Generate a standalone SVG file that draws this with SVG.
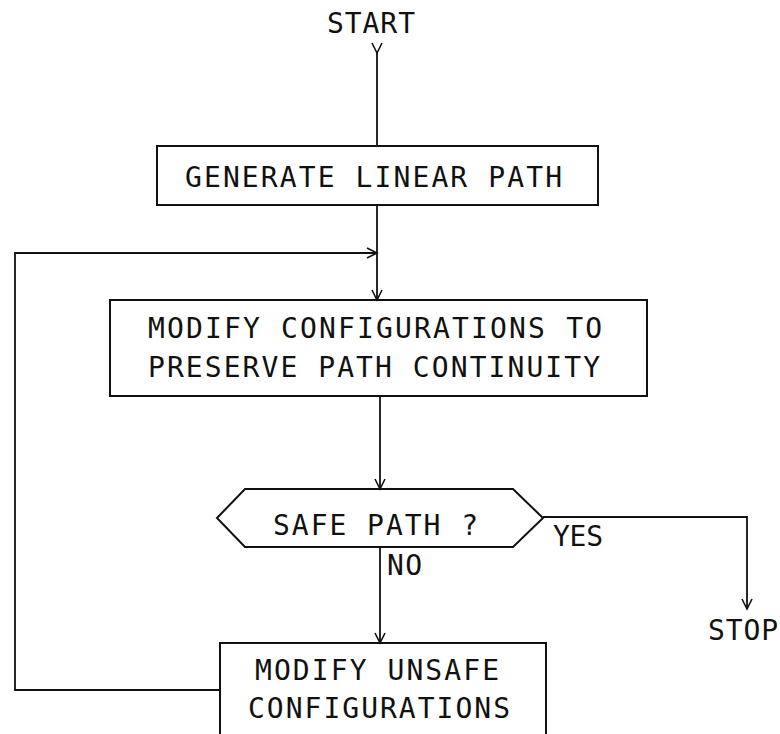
<svg xmlns="http://www.w3.org/2000/svg" width="780" height="734" viewBox="0 0 780 734">
<style>
.box{fill:none;stroke:#111;stroke-width:2}
.ln{fill:none;stroke:#111;stroke-width:1.8}
.t{font-family:"DejaVu Sans Mono","Liberation Mono",monospace;font-size:28px;fill:#111}
</style>
<defs>
<marker id="arr" viewBox="-12 -7 14 14" markerWidth="14" markerHeight="14" refX="0" refY="0" orient="auto" markerUnits="userSpaceOnUse">
<path d="M-10,-5 L0,0 L-10,5" fill="none" stroke="#111" stroke-width="1.6"/>
</marker>
</defs>
<rect width="780" height="734" fill="#fff"/>
<g id="connectors">
<path class="ln" d="M377,53 V146" marker-start="url(#arr)"/>
<path class="ln" d="M377,205 V300" marker-end="url(#arr)"/>
<path class="ln" d="M220,690 H15 V253 H377" marker-end="url(#arr)"/>
<path class="ln" d="M380,396 V489" marker-end="url(#arr)"/>
<path class="ln" d="M543,517 H747 V609" marker-end="url(#arr)"/>
<path class="ln" d="M380,547 V643" marker-end="url(#arr)"/>
</g>
<g id="start">
<text class="t" x="327" y="33" textLength="88" lengthAdjust="spacing">START</text>
</g>
<g id="generate">
<rect class="box" x="157" y="146" width="441" height="59"/>
<text class="t" x="185" y="187" textLength="377" lengthAdjust="spacing">GENERATE LINEAR PATH</text>
</g>
<g id="modify">
<rect class="box" x="110" y="300" width="537" height="96"/>
<text class="t" x="148" y="338" textLength="454" lengthAdjust="spacing">MODIFY CONFIGURATIONS TO</text>
<text class="t" x="148" y="377" textLength="452" lengthAdjust="spacing">PRESERVE PATH CONTINUITY</text>
</g>
<g id="decision">
<polygon class="box" points="217,518 245,489 513,489 543,518 513,547 245,547"/>
<text class="t" x="273" y="535" textLength="205" lengthAdjust="spacing">SAFE PATH ?</text>
</g>
<g id="labels">
<text class="t" x="553" y="546" textLength="50" lengthAdjust="spacing">YES</text>
<text class="t" x="387" y="575" textLength="35" lengthAdjust="spacing">NO</text>
</g>
<g id="stop">
<text class="t" x="708" y="640" textLength="70" lengthAdjust="spacing">STOP</text>
</g>
<g id="unsafe">
<rect class="box" x="220" y="643" width="326" height="110"/>
<text class="t" x="255" y="680" textLength="244" lengthAdjust="spacing">MODIFY UNSAFE</text>
<text class="t" x="248" y="718" textLength="262" lengthAdjust="spacing">CONFIGURATIONS</text>
</g>
</svg>
